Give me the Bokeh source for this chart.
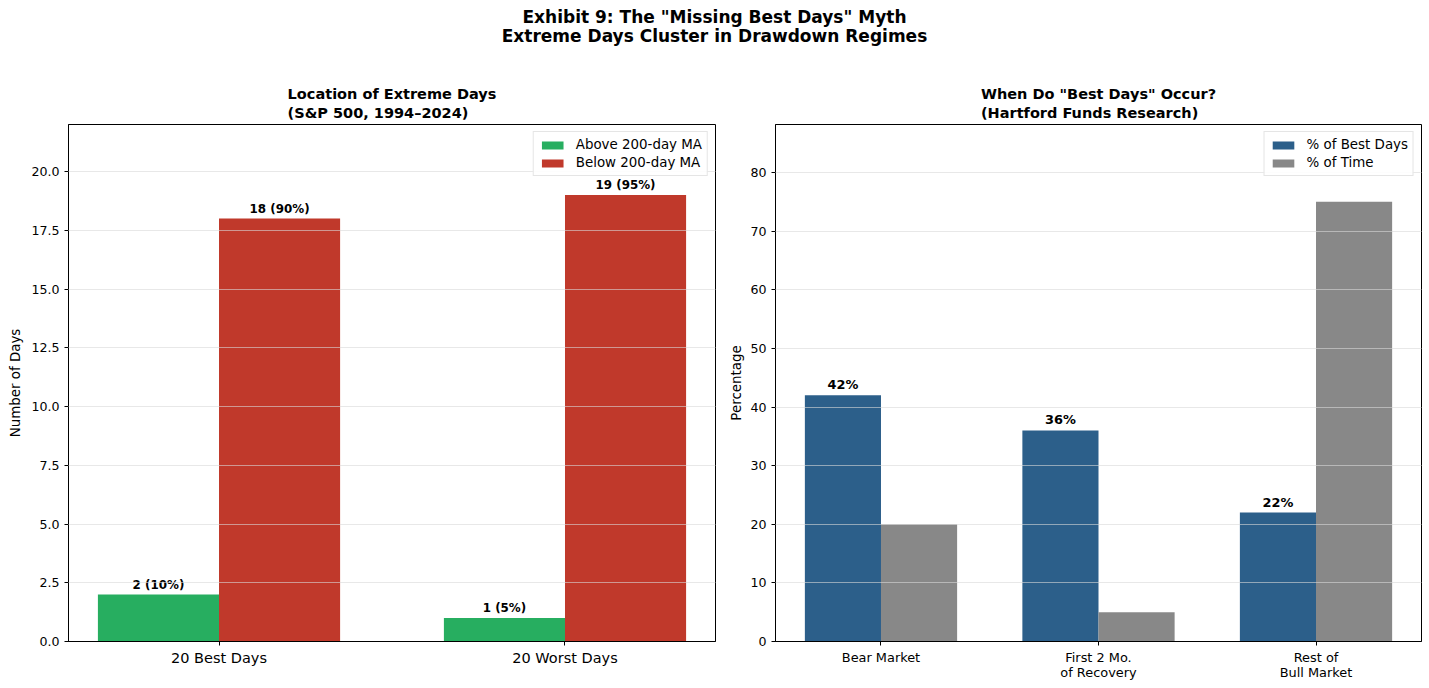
from bokeh.plotting import figure
from bokeh.models import (Div, Legend, LegendItem, FixedTicker, ColumnDataSource,
                          Range1d)
from bokeh.layouts import column, row
from bokeh.embed import file_html
from bokeh.resources import INLINE

FONT = "DejaVu Sans"

# ---------------- data ----------------
left_categories = ["20 Best Days", "20 Worst Days"]
above_ma = [2, 1]
below_ma = [18, 19]
above_labels = ["2 (10%)", "1 (5%)"]
below_labels = ["18 (90%)", "19 (95%)"]
left_yticks = [0, 2.5, 5, 7.5, 10, 12.5, 15, 17.5, 20]

right_categories = ["Bear Market", "First 2 Mo.\nof Recovery", "Rest of\nBull Market"]
pct_best_days = [42, 36, 22]
pct_time = [20, 5, 75]
best_labels = ["42%", "36%", "22%"]
right_yticks = [0, 10, 20, 30, 40, 50, 60, 70, 80]

GREEN = "#27ae60"
RED = "#c0392b"
BLUE = "#2c5f8a"
GRAY = "#888888"
W = 0.35


def style(p):
    p.toolbar_location = None
    p.outline_line_color = "black"
    p.outline_line_width = 1
    p.xgrid.grid_line_color = None
    p.ygrid.grid_line_color = "#d8d8d8"
    p.ygrid.grid_line_alpha = 0.6
    p.ygrid.level = "annotation"
    for ax in (p.xaxis[0], p.yaxis[0]):
        ax.axis_line_color = "black"
        ax.major_tick_line_color = "black"
        ax.major_tick_out = 4
        ax.major_tick_in = 0
        ax.minor_tick_line_color = None
        ax.major_label_text_font = FONT
        ax.major_label_text_color = "black"
        ax.axis_label_text_font = FONT
        ax.axis_label_text_font_style = "normal"
        ax.axis_label_text_font_size = "13.4px"
        ax.axis_label_text_color = "black"
    p.xaxis.major_label_standoff = 4
    p.xaxis.major_label_text_line_height = 1.05
    p.yaxis.major_label_text_font_size = "12.6px"
    p.title.text_font = FONT
    p.title.text_font_style = "bold"
    p.title.text_font_size = "14.5px"
    p.title.text_line_height = 1.2
    p.title.align = "center"
    p.title.text_color = "black"
    p.title.standoff = 6


# ---------------- left panel ----------------
lx = list(range(len(left_categories)))
src_l = ColumnDataSource(dict(
    xa=[x - W / 2 for x in lx], xb=[x + W / 2 for x in lx],
    above=above_ma, below=below_ma,
    above_lab=above_labels, below_lab=below_labels))

p1 = figure(width=716, height=622, output_backend="svg", toolbar_location=None,
            title="Location of Extreme Days\n(S&P 500, 1994\u20132024)",
            x_range=Range1d(-0.435, 1.435), y_range=Range1d(0, 22),
            min_border_left=59, min_border_right=10, min_border_top=66,
            min_border_bottom=39)
p1.frame_width = 647
p1.frame_height = 517
r_a = p1.vbar(x="xa", top="above", width=W, source=src_l, fill_color=GREEN,
              line_color=None)
r_b = p1.vbar(x="xb", top="below", width=W, source=src_l, fill_color=RED,
              line_color=None)
p1.text(x="xa", y="above", text="above_lab", source=src_l, text_align="center",
        text_baseline="bottom", y_offset=-3, text_font_size="11.9px",
        text_font_style="bold", text_font={"value": FONT}, text_color="black")
p1.text(x="xb", y="below", text="below_lab", source=src_l, text_align="center",
        text_baseline="bottom", y_offset=-3, text_font_size="11.9px",
        text_font_style="bold", text_font={"value": FONT}, text_color="black")
style(p1)
p1.xaxis.ticker = FixedTicker(ticks=lx)
p1.xaxis.major_label_overrides = {i: c for i, c in enumerate(left_categories)}
p1.xaxis.major_label_text_font_size = "14.5px"
p1.yaxis.ticker = FixedTicker(ticks=left_yticks)
p1.yaxis.major_label_overrides = {t: f"{t:.1f}" for t in left_yticks}
p1.yaxis.axis_label = "Number of Days"

leg1 = Legend(items=[LegendItem(label="Above 200-day MA", renderers=[r_a]),
                     LegendItem(label="Below 200-day MA", renderers=[r_b])],
              location="top_right")
p1.add_layout(leg1)

# ---------------- right panel ----------------
rx = list(range(len(right_categories)))
src_r = ColumnDataSource(dict(
    xa=[x - W / 2 for x in rx], xb=[x + W / 2 for x in rx],
    best=pct_best_days, time=pct_time, lab=best_labels))

p2 = figure(width=697, height=622, output_backend="svg", toolbar_location=None,
            title="When Do \"Best Days\" Occur?\n(Hartford Funds Research)",
            x_range=Range1d(-0.485, 2.485), y_range=Range1d(0, 88.2),
            min_border_left=50, min_border_right=1, min_border_top=66,
            min_border_bottom=39)
p2.frame_width = 646
p2.frame_height = 517
r_c = p2.vbar(x="xa", top="best", width=W, source=src_r, fill_color=BLUE,
              line_color=None)
r_d = p2.vbar(x="xb", top="time", width=W, source=src_r, fill_color=GRAY,
              line_color=None)
p2.text(x="xa", y="best", text="lab", source=src_r, text_align="center",
        text_baseline="bottom", y_offset=-3, text_font_size="12.9px",
        text_font_style="bold", text_font={"value": FONT}, text_color="black")
style(p2)
p2.xaxis.ticker = FixedTicker(ticks=rx)
p2.xaxis.major_label_overrides = {i: c for i, c in enumerate(right_categories)}
p2.xaxis.major_label_text_font_size = "12.9px"
p2.yaxis.ticker = FixedTicker(ticks=right_yticks)
p2.yaxis.axis_label = "Percentage"
p2.yaxis.axis_label_standoff = 3

leg2 = Legend(items=[LegendItem(label="% of Best Days", renderers=[r_c]),
                     LegendItem(label="% of Time", renderers=[r_d])],
              location="top_right")
p2.add_layout(leg2)

for lg in (leg1, leg2):
    lg.label_text_font = FONT
    lg.label_text_font_size = "13.4px"
    lg.label_text_color = "black"
    lg.glyph_width = 27
    lg.glyph_height = 10
    lg.label_standoff = 10
    lg.label_height = 14
    lg.spacing = 3
    lg.padding = 5
    lg.margin = 7
    lg.border_line_color = "#cccccc"
    lg.border_line_width = 1
    lg.background_fill_alpha = 0.9

title_div = Div(
    text=("<div style='font-family:\"DejaVu Sans\";font-weight:bold;"
          "font-size:17px;line-height:19px;text-align:center;width:1413px;color:black'>"
          "Exhibit 9: The \"Missing Best Days\" Myth<br>"
          "Extreme Days Cluster in Drawdown Regimes</div>"),
    width=1413, height=50, margin=(0, 0, 0, 3))

layout = column(title_div, row(p1, p2, spacing=0), spacing=0,
                margin=(8, 0, 0, 5))

open("out.html", "w").write(file_html(layout, INLINE))
